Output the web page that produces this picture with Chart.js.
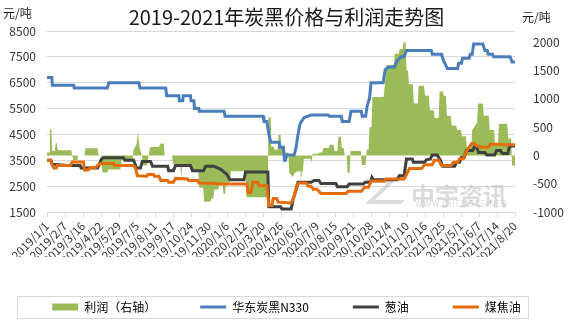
<!DOCTYPE html>
<html>
<head>
<meta charset="utf-8">
<script src="https://cdn.jsdelivr.net/npm/chart.js@4/dist/chart.umd.min.js"></script>
<style>
html, body { margin: 0; padding: 0; background: #fff; }
</style>
</head>
<body>
<canvas id="myChart" width="573" height="323"></canvas>
<script>
// x values are days counted from 2019/1/1, the axis shows a label every 37 days
const TICK_STEP = 37;
const tickLabels = ['2019/1/1', '2019/2/7', '2019/3/16', '2019/4/22', '2019/5/29', '2019/7/5', '2019/8/11',
    '2019/9/17', '2019/10/24', '2019/11/30', '2020/1/6', '2020/2/12', '2020/3/20', '2020/4/26', '2020/6/2',
    '2020/7/9', '2020/8/15', '2020/9/21', '2020/10/28', '2020/12/4', '2021/1/10', '2021/2/16', '2021/3/25',
    '2021/5/1', '2021/6/7', '2021/7/14', '2021/8/20'];
const profitTicks = [-1000, -500, 0, 500, 1000, 1500, 2000];

// 利润（右轴）
const profitDay = [0, 5, 6, 9, 11, 16, 18, 20, 22, 27, 50, 52, 54, 62, 63, 77, 79, 104, 106, 112, 114, 124, 126, 151,
    153, 176, 178, 184, 187, 190, 195, 198, 206, 209, 212, 230, 234, 240, 242, 257, 259, 274, 276, 278, 294, 296,
    311, 313, 321, 323, 336, 338, 342, 344, 352, 354, 361, 363, 366, 368, 376, 378, 408, 410, 454, 455, 460, 461,
    466, 468, 474, 476, 480, 482, 486, 488, 496, 498, 505, 510, 516, 521, 522, 524, 526, 528, 542, 544, 546, 558,
    560, 566, 568, 579, 581, 589, 591, 597, 599, 604, 606, 610, 612, 616, 618, 622, 624, 645, 647, 655, 657, 661,
    663, 667, 669, 692, 695, 698, 713, 715, 723, 725, 731, 733, 737, 739, 742, 744, 752, 754, 762, 764, 775, 777,
    785, 787, 795, 797, 805, 807, 814, 816, 820, 822, 830, 832, 841, 843, 851, 853, 861, 863, 872, 874, 884, 886,
    896, 898, 908, 910, 919, 921, 927, 929, 946, 948, 954, 956, 962];
const profit = [50, 50, 460, 460, 80, 80, 220, 220, 100, 90, 90, 0, -80, -80, 0, 0, 125, 125, 0, 0, -300, -300, -250, -250,
    -80, -80, 100, 200, 420, 150, 0, -180, -180, 0, 150, 150, 210, 210, 0, 0, -150, -150, -400, -170, -170, -285,
    -285, -570, -570, -820, -820, -760, -760, -600, -600, -510, -510, -680, -680, -480, -480, -280, -280, -740, -740, 670, 670, 160,
    160, 100, 100, 360, 360, 150, 150, 50, 50, -300, -380, -300, -280, -280, -450, -280, -280, -60, -60, -120, 30, 30,
    50, 50, 130, 130, 190, 190, 80, 80, 330, 330, 130, 130, 0, 0, -310, -310, 80, 80, -170, -170, 100, 100,
    500, 500, 1035, 1035, 1300, 1600, 1600, 1800, 1800, 1880, 1880, 2000, 2000, 1500, 1500, 1260, 1260, 920, 920, 1230, 1230, 1060,
    1060, 800, 800, 660, 660, 1130, 1130, 1050, 1050, 700, 700, 530, 530, 450, 450, 340, 340, 150, 150, 450, 580, 920,
    920, 700, 700, 450, 450, 180, 180, 560, 560, 300, 300, -180, -180];

// 华东炭黑N330
const n330Day = [0, 10, 11, 55, 56, 124, 127, 189, 191, 244, 246, 271, 272, 279, 280, 295, 296, 302, 303, 312, 313,
    364, 366, 444, 446, 452, 456, 460, 477, 479, 486, 488, 490, 493, 508, 512, 516, 520, 528, 543, 578, 580, 605,
    607, 621, 625, 646, 648, 655, 658, 663, 666, 691, 695, 701, 714, 720, 728, 734, 739, 790, 792, 811, 815, 823,
    844, 846, 852, 854, 868, 870, 874, 877, 896, 900, 905, 907, 916, 918, 952, 956, 962];
const n330 = [6700, 6700, 6400, 6400, 6300, 6300, 6500, 6500, 6300, 6300, 6000, 6000, 5800, 5800, 6000, 6000, 5800, 5800, 5500, 5500, 5400,
    5400, 5200, 5200, 5000, 5000, 4500, 4200, 4200, 4000, 4000, 3500, 3500, 3700, 3700, 4000, 4500, 4900, 5150, 5250, 5250, 5200, 5200,
    5000, 5000, 5400, 5400, 5200, 5200, 5600, 5900, 6500, 6500, 7000, 7100, 7100, 7350, 7500, 7500, 7750, 7750, 7600, 7600, 7350, 7050,
    7050, 7250, 7250, 7450, 7450, 7600, 7600, 8000, 8000, 7750, 7750, 7600, 7600, 7500, 7500, 7300, 7300];

// 葱油
const anthDay = [0, 8, 11, 42, 68, 70, 104, 112, 116, 157, 160, 178, 184, 192, 196, 213, 217, 248, 250, 260, 264, 295,
    299, 322, 326, 343, 357, 370, 376, 405, 408, 454, 456, 480, 483, 502, 506, 512, 516, 543, 549, 559, 563, 594,
    597, 617, 621, 650, 654, 665, 668, 671, 720, 724, 734, 739, 751, 753, 776, 780, 788, 792, 802, 809, 813, 838,
    842, 848, 852, 858, 862, 875, 879, 883, 887, 900, 904, 920, 924, 932, 936, 947, 951, 962];
const anthOil = [3500, 3500, 3350, 3300, 3300, 3200, 3200, 3550, 3600, 3600, 3500, 3500, 3200, 3200, 3450, 3450, 3270, 3270, 3100, 3100, 3300, 3300,
    3100, 3100, 3270, 3270, 3150, 2950, 2750, 2750, 3050, 3050, 1700, 1700, 1620, 1620, 2000, 2350, 2650, 2650, 2720, 2720, 2600, 2600,
    2480, 2480, 2580, 2580, 2650, 2650, 2840, 2750, 2750, 2900, 2900, 3550, 3550, 3420, 3420, 3520, 3550, 3700, 3700, 3500, 3270, 3270,
    3420, 3420, 3620, 3620, 3880, 3880, 4030, 4030, 3800, 3800, 3700, 3700, 3880, 3880, 3760, 3760, 4050, 4050];

// 煤焦油
const tarDay = [0, 7, 11, 14, 19, 21, 48, 52, 75, 77, 85, 89, 100, 104, 110, 137, 139, 178, 182, 186, 205, 207, 219,
    221, 230, 234, 248, 250, 260, 264, 289, 291, 310, 312, 349, 351, 411, 413, 419, 423, 433, 436, 452, 456, 462,
    465, 472, 475, 502, 508, 514, 518, 533, 537, 543, 547, 555, 563, 615, 619, 646, 653, 661, 666, 693, 697, 734,
    739, 745, 770, 776, 792, 796, 805, 811, 831, 835, 844, 848, 856, 862, 873, 879, 883, 889, 893, 907, 911, 932,
    934, 962];
const coalTar = [3500, 3500, 3300, 3200, 3200, 3300, 3300, 3430, 3430, 3120, 3120, 3220, 3220, 3300, 3380, 3380, 3300, 3300, 3200, 2900, 2880, 2950, 2950,
    2880, 2880, 2720, 2720, 2650, 2650, 2800, 2780, 2720, 2720, 2620, 2600, 2580, 2580, 2250, 2250, 2650, 2650, 2520, 2520, 1750, 1750,
    2020, 2020, 1880, 1850, 2100, 2550, 2620, 2620, 2500, 2500, 2380, 2380, 2220, 2220, 2300, 2300, 2460, 2460, 2700, 2700, 2780, 2780,
    2950, 3180, 3180, 3330, 3330, 3500, 3500, 3300, 3300, 3420, 3420, 3560, 3560, 3850, 4150, 4150, 4050, 4050, 4000, 4000, 4120, 4120,
    4100, 4100];

function pts(days, vals) {
    return days.map((d, i) => ({x: d, y: vals[i]}));
}

Chart.defaults.font.family = '"Noto Sans CJK SC", "Noto Sans", sans-serif';
Chart.defaults.color = '#333';

// unit labels, legend frame and the source watermark
const extras = {
    id: 'extras',
    beforeDatasetsDraw(chart) {
        const {ctx, chartArea: a} = chart;
        ctx.save();
        ctx.fillStyle = 'rgba(190,190,190,0.55)';
        ctx.beginPath();
        ctx.moveTo(a.right - 148, a.bottom - 33);
        ctx.lineTo(a.right - 118, a.bottom - 33);
        ctx.lineTo(a.right - 140, a.bottom - 12);
        ctx.lineTo(a.right - 110, a.bottom - 12);
        ctx.lineTo(a.right - 114, a.bottom - 8);
        ctx.lineTo(a.right - 150, a.bottom - 8);
        ctx.lineTo(a.right - 128, a.bottom - 29);
        ctx.lineTo(a.right - 150, a.bottom - 29);
        ctx.closePath();
        ctx.fill();
        ctx.font = 'bold 24px "Noto Sans CJK SC"';
        ctx.fillText('中宇资讯', a.right - 104, a.bottom - 16);
        ctx.font = '8px "Noto Sans"';
        ctx.letterSpacing = '1px';
        ctx.fillText('WWW.CHEM365.NET', a.right - 100, a.bottom - 7);
        ctx.restore();
    },
    afterDraw(chart) {
        const {ctx, chartArea: a, legend} = chart;
        ctx.save();
        ctx.fillStyle = '#1a1a1a';
        ctx.font = '12px "Noto Sans CJK SC"';
        ctx.textBaseline = 'middle';
        ctx.fillText('元/吨', 3, a.top - 18);
        ctx.fillText('元/吨', a.right + 7, a.top - 14);
        const hb = legend && legend.legendHitBoxes;
        if (hb && hb.length) {
            const cy = Math.round(hb[0].top + hb[0].height / 2);
            const l = Math.round(a.left - 30);
            const r = Math.round(a.right + 13);
            ctx.strokeStyle = '#d9d9d9';
            ctx.lineWidth = 1;
            ctx.strokeRect(l + 0.5, cy - 11 + 0.5, r - l, 22);
        }
        ctx.restore();
    }
};

const ctx = document.getElementById('myChart');

theChart = new Chart(ctx, {
    type: 'line',
    data: {
        datasets: [{
            label: '利润（右轴）',
            data: pts(profitDay, profit),
            yAxisID: 'y1',
            fill: 'origin',
            backgroundColor: '#9BBB59',
            borderColor: '#9BBB59',
            borderWidth: 0,
            pointRadius: 0,
            legendStyle: 'rect',
            order: 3
        },
        {
            label: '华东炭黑N330',
            data: pts(n330Day, n330),
            yAxisID: 'y',
            borderColor: '#4A7EBB',
            borderWidth: 3,
            pointRadius: 0,
            legendStyle: 'line',
            order: 2
        },
        {
            label: '葱油',
            data: pts(anthDay, anthOil),
            yAxisID: 'y',
            borderColor: '#404040',
            borderWidth: 3,
            pointRadius: 0,
            legendStyle: 'line',
            order: 1
        },
        {
            label: '煤焦油',
            data: pts(tarDay, coalTar),
            yAxisID: 'y',
            borderColor: '#E46C0A',
            borderWidth: 3,
            pointRadius: 0,
            legendStyle: 'line',
            order: 0
        }]
    },
    options: {
        responsive: false,
        animation: false,
        devicePixelRatio: 1,
        layout: { padding: 0 },
        plugins: {
            title: {
                display: true,
                text: '2019-2021年炭黑价格与利润走势图',
                color: '#1a1a1a',
                font: { size: 20, weight: 'normal' },
                padding: { top: 5, bottom: 2 }
            },
            legend: {
                position: 'bottom',
                labels: {
                    usePointStyle: true,
                    pointStyleWidth: 26,
                    boxHeight: 7,
                    padding: 44,
                    color: '#333',
                    font: { size: 12 },
                    generateLabels: chart => chart.data.datasets.map((ds, i) => ({
                        text: ds.label,
                        datasetIndex: i,
                        hidden: false,
                        fillStyle: ds.legendStyle === 'rect' ? ds.backgroundColor : ds.borderColor,
                        strokeStyle: ds.legendStyle === 'rect' ? ds.backgroundColor : ds.borderColor,
                        lineWidth: ds.legendStyle === 'rect' ? 0 : 3,
                        pointStyle: ds.legendStyle
                    }))
                }
            },
            tooltip: { enabled: false }
        },
        scales: {
            x: {
                type: 'linear',
                min: 0,
                max: (tickLabels.length - 1) * TICK_STEP,
                afterBuildTicks: s => { s.ticks = tickLabels.map((_, i) => ({ value: i * TICK_STEP })); },
                afterFit: s => { s.height = 45; },
                grid: { drawOnChartArea: false, drawTicks: true, tickLength: 5, color: '#d9d9d9' },
                border: { display: true, color: '#d9d9d9' },
                ticks: {
                    autoSkip: false,
                    maxRotation: 45,
                    minRotation: 45,
                    padding: 2,
                    color: '#333',
                    font: { size: 11.5 },
                    callback: v => tickLabels[Math.round(v / TICK_STEP)]
                }
            },
            y: {
                position: 'left',
                min: 1500,
                max: 8500,
                afterFit: s => { s.width = 47; },
                grid: { color: '#d9d9d9', drawTicks: false },
                border: { display: false },
                ticks: { stepSize: 1000, padding: 11, color: '#333', font: { size: 12 }, callback: v => String(v) }
            },
            y1: {
                position: 'right',
                min: -1000,
                max: 2200,
                afterBuildTicks: s => { s.ticks = profitTicks.map(v => ({ value: v })); },
                afterFit: s => { s.width = 58; },
                grid: { display: false },
                border: { display: false },
                ticks: { padding: 10, color: '#333', font: { size: 12 }, callback: v => String(v) }
            }
        }
    },
    plugins: [extras]
});
</script>
</body>
</html>
